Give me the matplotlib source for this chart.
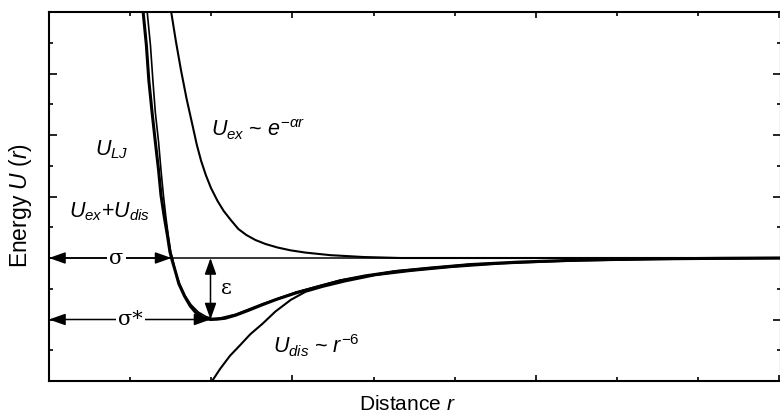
import numpy as np
import matplotlib
matplotlib.use("Agg")
import matplotlib.pyplot as plt
from matplotlib.ticker import MultipleLocator, NullFormatter

plt.rcParams['font.family'] = ['Liberation Sans', 'DejaVu Sans']
plt.rcParams['mathtext.fontset'] = 'custom'
plt.rcParams['mathtext.rm'] = 'Liberation Sans'
plt.rcParams['mathtext.it'] = 'Liberation Sans:italic'

# distance r (tick units) and energy U (units of epsilon)
r_lj = [1.16, 1.20, 1.23, 1.27, 1.31, 1.35, 1.38, 1.42, 1.46, 1.49, 1.52, 1.56, 1.60,
        1.67, 1.74, 1.81, 1.90, 1.99, 2.07, 2.17, 2.30, 2.46, 2.63, 2.81, 3.04, 3.31,
        3.59, 3.90, 4.27, 4.70, 5.20, 5.81, 6.56, 7.42, 8.28, 9.0]
u_lj = [4.0, 3.46, 2.89, 2.37, 1.89, 1.43, 1.02, 0.67, 0.36, 0.10, -0.05, -0.23, -0.42,
        -0.62, -0.78, -0.89, -0.97, -1.0, -0.995, -0.98, -0.93, -0.85, -0.76, -0.67,
        -0.57, -0.47, -0.37, -0.29, -0.22, -0.163, -0.106, -0.065, -0.033, -0.015,
        -0.005, 0.0]

r_sum = [1.21, 1.25, 1.28, 1.31, 1.35, 1.38, 1.41, 1.44, 1.47, 1.50, 1.53, 1.56, 1.61,
         1.68, 1.75, 1.84, 1.93, 2.01, 2.11, 2.30, 2.63, 3.04, 3.59, 4.27, 5.20, 6.56, 9.0]
u_sum = [4.0, 3.46, 2.89, 2.37, 1.89, 1.43, 1.02, 0.67, 0.36, 0.10, -0.05, -0.23, -0.42,
         -0.62, -0.76, -0.88, -0.95, -0.985, -0.975, -0.915, -0.745, -0.555, -0.36,
         -0.21, -0.10, -0.03, 0.0]

r_ex = [1.506, 1.563, 1.626, 1.696, 1.773, 1.822, 1.875, 1.932, 1.996, 2.077, 2.153,
        2.240, 2.333, 2.432, 2.543, 2.667, 2.815, 2.975, 3.160, 3.469, 3.877, 4.333, 9.0]
u_ex = [4.0, 3.528, 3.057, 2.585, 2.130, 1.837, 1.577, 1.350, 1.138, 0.927, 0.764,
        0.618, 0.472, 0.374, 0.293, 0.228, 0.171, 0.125, 0.088, 0.046, 0.016, 0.0, 0.0]

r_dis = [2.01, 2.11, 2.23, 2.36, 2.48, 2.63, 2.79, 2.98, 3.16, 3.37, 3.65, 4.02, 4.46,
         4.95, 5.57, 6.31, 7.17, 8.04, 9.0]
u_dis = [-2.0, -1.80, -1.59, -1.41, -1.24, -1.07, -0.87, -0.68, -0.55, -0.47, -0.38,
         -0.28, -0.21, -0.148, -0.09, -0.05, -0.024, -0.01, -0.004]

r_sigma = 1.51      # zero crossing
r_min = 1.99        # position of the minimum
u_min = -1.0        # depth epsilon

fig = plt.figure(figsize=(7.8, 4.16), dpi=100)
ax = fig.add_axes([49 / 780, 35 / 416, 732 / 780, 369 / 416])

ax.axhline(0, color='black', lw=1.1)
ax.plot(r_lj, u_lj, color='black', lw=2.2, solid_joinstyle='round')
ax.plot(r_sum, u_sum, color='black', lw=1.2, solid_joinstyle='round')
ax.plot(r_ex, u_ex, color='black', lw=1.5, solid_joinstyle='round')
ax.plot(r_dis, u_dis, color='black', lw=1.5, solid_joinstyle='round')

astyle = '<|-|>,head_length=0.9,head_width=0.32'
arrow = dict(arrowstyle=astyle, color='black', lw=1.1, shrinkA=0, shrinkB=0,
             mutation_scale=11)
ax.annotate('', xy=(r_sigma, 0), xytext=(0, 0), arrowprops=arrow)
ax.annotate('', xy=(r_min, u_min), xytext=(0, u_min), arrowprops=arrow)
ax.annotate('', xy=(r_min, u_min), xytext=(r_min, 0), arrowprops=arrow)

box = dict(facecolor='white', edgecolor='none', pad=1.5)
ax.text(0.83, 0, 'σ', fontsize=15, ha='center', va='center', bbox=box,
        family=['DejaVu Serif'])
ax.text(1.0, u_min, 'σ*', fontsize=15, ha='center', va='center', bbox=box,
        family=['DejaVu Serif'])
ax.text(2.12, -0.5, 'ε', fontsize=15, ha='left', va='center', family=['DejaVu Serif'])

fs = 15.5
ax.text(0.57, 1.67, r'$U_{LJ}$', fontsize=fs, ha='left', va='baseline')
ax.text(0.25, 0.66, r'$U_{ex}$+$U_{dis}$', fontsize=fs, ha='left', va='baseline')
ax.text(2.0, 1.98, r'$U_{ex}$ ~ $e^{-\alpha r}$', fontsize=fs, ha='left', va='baseline')
ax.text(2.76, -1.55, r'$U_{dis}$ ~ $r^{-6}$', fontsize=fs, ha='left', va='baseline')

ax.set_xlim(0, 9.02)
ax.set_ylim(-2, 4)
ax.xaxis.set_major_locator(MultipleLocator(3))
ax.xaxis.set_minor_locator(MultipleLocator(1))
ax.yaxis.set_major_locator(MultipleLocator(1))
ax.yaxis.set_minor_locator(MultipleLocator(0.5))
ax.xaxis.set_major_formatter(NullFormatter())
ax.yaxis.set_major_formatter(NullFormatter())
ax.tick_params(which='both', direction='in', top=True, right=True, width=1.2)
ax.tick_params(axis='x', which='major', length=4.5)
ax.tick_params(axis='x', which='minor', length=3)
ax.tick_params(axis='y', which='major', length=6)
ax.tick_params(axis='y', which='minor', length=3)
for s in ax.spines.values():
    s.set_linewidth(1.5)

ax.set_xlabel('Distance $r$', fontsize=15)
ax.xaxis.set_label_coords(0.49, -0.037, transform=ax.transAxes)
ax.xaxis.label.set_va('top')
ax.set_ylabel('Energy $U$ ($r$)', fontsize=16.5)
ax.yaxis.set_label_coords(-0.02, 0.475, transform=ax.transAxes)
ax.yaxis.label.set_va('bottom')

fig.savefig('out.png', dpi=100)
